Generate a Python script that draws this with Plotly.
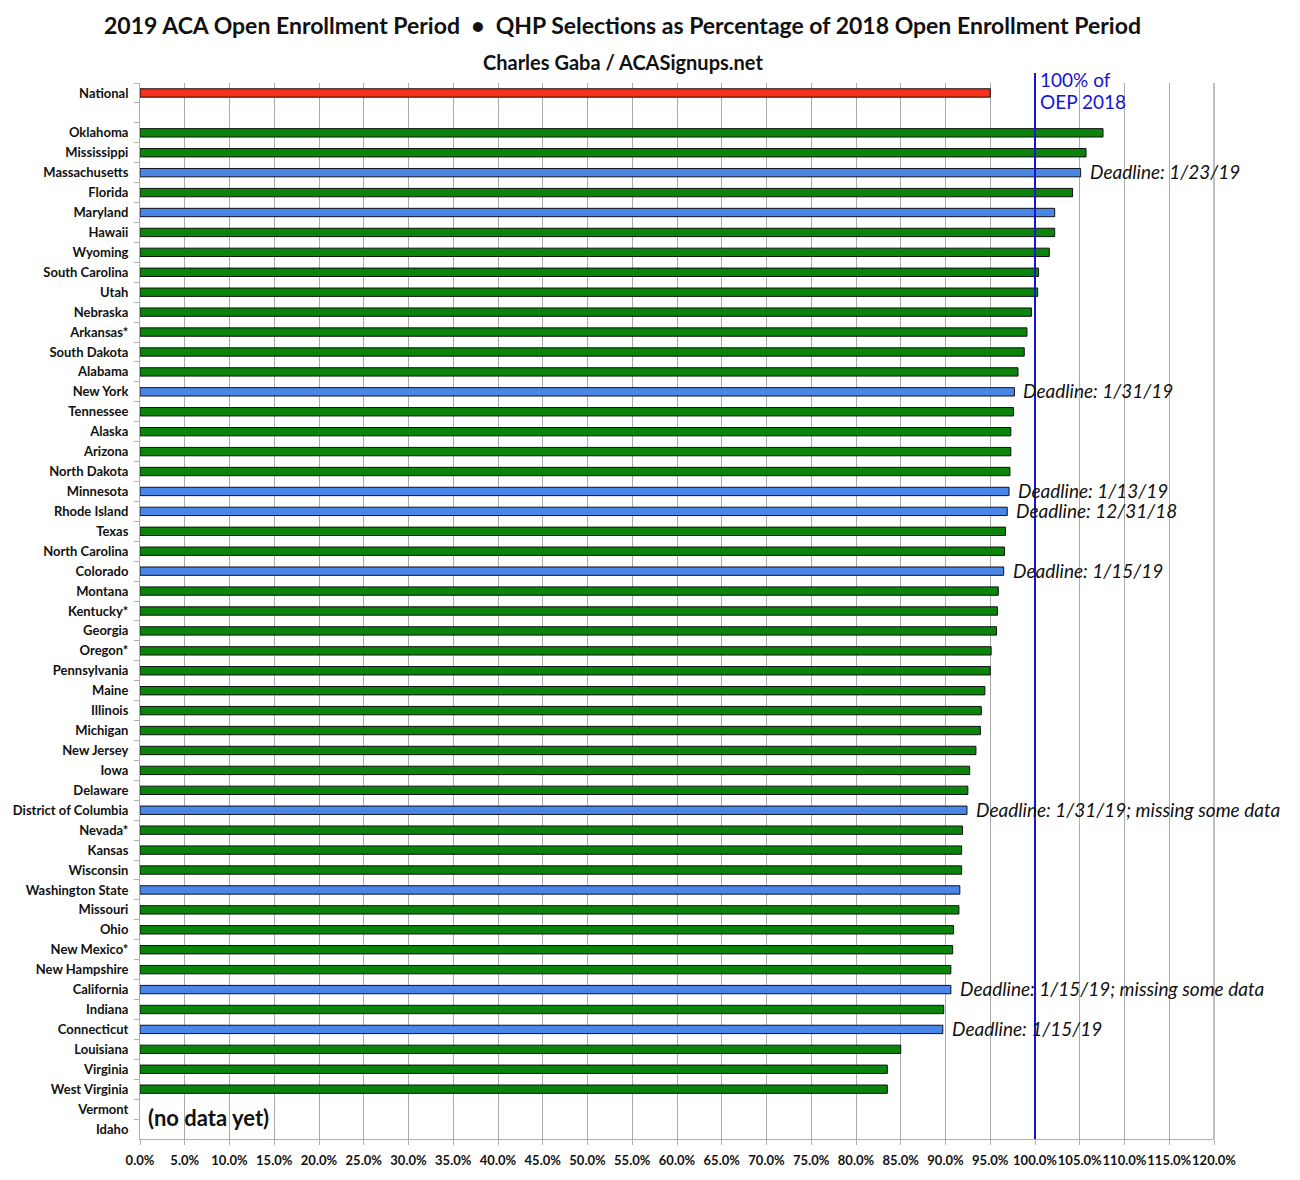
import plotly.graph_objects as go

states = ["National", " ", "Oklahoma", "Mississippi", "Massachusetts", "Florida", "Maryland", "Hawaii",
          "Wyoming", "South Carolina", "Utah", "Nebraska", "Arkansas*", "South Dakota", "Alabama",
          "New York", "Tennessee", "Alaska", "Arizona", "North Dakota", "Minnesota", "Rhode Island",
          "Texas", "North Carolina", "Colorado", "Montana", "Kentucky*", "Georgia", "Oregon*",
          "Pennsylvania", "Maine", "Illinois", "Michigan", "New Jersey", "Iowa", "Delaware",
          "District of Columbia", "Nevada*", "Kansas", "Wisconsin", "Washington State", "Missouri",
          "Ohio", "New Mexico*", "New Hampshire", "California", "Indiana", "Connecticut",
          "Louisiana", "Virginia", "West Virginia", "Vermont", "Idaho"]

values = [95.0, None, 107.6, 105.7, 105.1, 104.2, 102.2, 102.2,
          101.6, 100.4, 100.3, 99.6, 99.1, 98.8, 98.1,
          97.7, 97.6, 97.3, 97.3, 97.2, 97.1, 96.9,
          96.7, 96.6, 96.5, 95.9, 95.8, 95.7, 95.1,
          95.0, 94.4, 94.0, 93.9, 93.4, 92.7, 92.5,
          92.4, 91.9, 91.8, 91.8, 91.6, 91.5,
          90.9, 90.8, 90.6, 90.6, 89.8, 89.7,
          85.0, 83.5, 83.5, None, None]

# N = national, F = HealthCare.gov (green), S = state-based exchange (blue)
groups = ["N", "", "F", "F", "S", "F", "S", "F",
          "F", "F", "F", "F", "F", "F", "F",
          "S", "F", "F", "F", "F", "S", "S",
          "F", "F", "S", "F", "F", "F", "F",
          "F", "F", "F", "F", "F", "F", "F",
          "S", "F", "F", "F", "S", "F",
          "F", "F", "F", "S", "F", "S",
          "F", "F", "F", "", ""]

deadline_states = ["Massachusetts", "New York", "Minnesota", "Rhode Island", "Colorado",
                   "District of Columbia", "California", "Connecticut"]
deadline_texts = ["Deadline: 1/23/19", "Deadline: 1/31/19", "Deadline: 1/13/19", "Deadline: 12/31/18",
                  "Deadline: 1/15/19", "Deadline: 1/31/19; missing some data",
                  "Deadline: 1/15/19; missing some data", "Deadline: 1/15/19"]

x_ticks = [i * 5 for i in range(25)]
x_ticklabels = [f"{t:.1f}%" for t in x_ticks]

title_text = "2019 ACA Open Enrollment Period  •  QHP Selections as Percentage of 2018 Open Enrollment Period"
subtitle_text = "Charles Gaba / ACASignups.net"
ref_line_texts = ["100% of", "OEP 2018"]

color_map = {"N": "#f5311b", "F": "#0a840a", "S": "#4a86e8", "": "#ffffff"}
colors = [color_map[g] for g in groups]

fig = go.Figure()
fig.add_trace(go.Bar(
    y=states, x=values, orientation="h",
    marker=dict(color=colors, line=dict(color="#111111", width=1)),
    width=0.42, hoverinfo="x+y",
))

for s, t in zip(deadline_states, deadline_texts):
    v = values[states.index(s)]
    fig.add_annotation(x=v, y=s, text=t, showarrow=False, xanchor="left", xshift=7, yshift=1,
                       font=dict(family="Lato", size=19, color="#111111", style="italic"))

fig.add_shape(type="line", xref="x", yref="paper", x0=100, x1=100, y0=0, y1=1.0095,
              line=dict(color="#1414d4", width=2))
for i, t in enumerate(ref_line_texts):
    fig.add_annotation(xref="x", yref="paper", x=100, y=1.0 + (3 - 21 * i) / 1056,
                       xanchor="left", yanchor="middle", xshift=3,
                       text=t, showarrow=False, align="left",
                       font=dict(family="Lato", size=19, color="#1414d4"))
fig.add_annotation(xref="x", yref="y", x=0, y="Idaho", yshift=12, xanchor="left", xshift=6,
                   text="(no data yet)", showarrow=False,
                   font=dict(family="Lato", size=22, color="#111111", weight="bold"))

fig.add_annotation(xref="paper", yref="paper", x=0.4497, xanchor="center", y=1.0 + 58 / 1056,
                   yanchor="middle", text=title_text, showarrow=False,
                   font=dict(family="Lato", size=23, color="#111111", weight="bold"))
fig.add_annotation(xref="paper", yref="paper", x=0.4497, xanchor="center", y=1.0 + 21 / 1056,
                   yanchor="middle", text=subtitle_text, showarrow=False,
                   font=dict(family="Lato", size=20, color="#111111", weight="bold"))

fig.update_layout(
    width=1300, height=1180,
    paper_bgcolor="white", plot_bgcolor="white",
    margin=dict(l=132, r=94, t=75, b=49, autoexpand=False),
    showlegend=False,
    xaxis=dict(
        range=[0, 120], tickvals=x_ticks, ticktext=x_ticklabels, tickangle=0,
        showgrid=True, gridcolor="#aaaaaa", gridwidth=1,
        showline=True, linecolor="#b0b0b0", linewidth=1,
        ticks="outside", ticklen=5, tickcolor="#b0b0b0",
        tickfont=dict(family="Lato", size=13, color="#111111", weight="bold"),
        zeroline=False, automargin=False, ticklabelstandoff=4,
    ),
    yaxis=dict(
        categoryorder="array", categoryarray=states,
        range=[len(states) - 0.5, -0.5], autorange=False,
        showline=True, linecolor="#b0b0b0", linewidth=1,
        ticks="outside", ticklen=5, tickcolor="#b0b0b0", tickson="boundaries",
        tickfont=dict(family="Lato", size=13, color="#111111", weight="bold"),
        showgrid=False, automargin=False, ticklabelstandoff=8,
    ),
)
fig.add_shape(type="line", xref="paper", yref="paper", x0=1, x1=1, y0=0, y1=1,
              line=dict(color="#c0c0c0", width=2))

fig.write_html("out.html")
